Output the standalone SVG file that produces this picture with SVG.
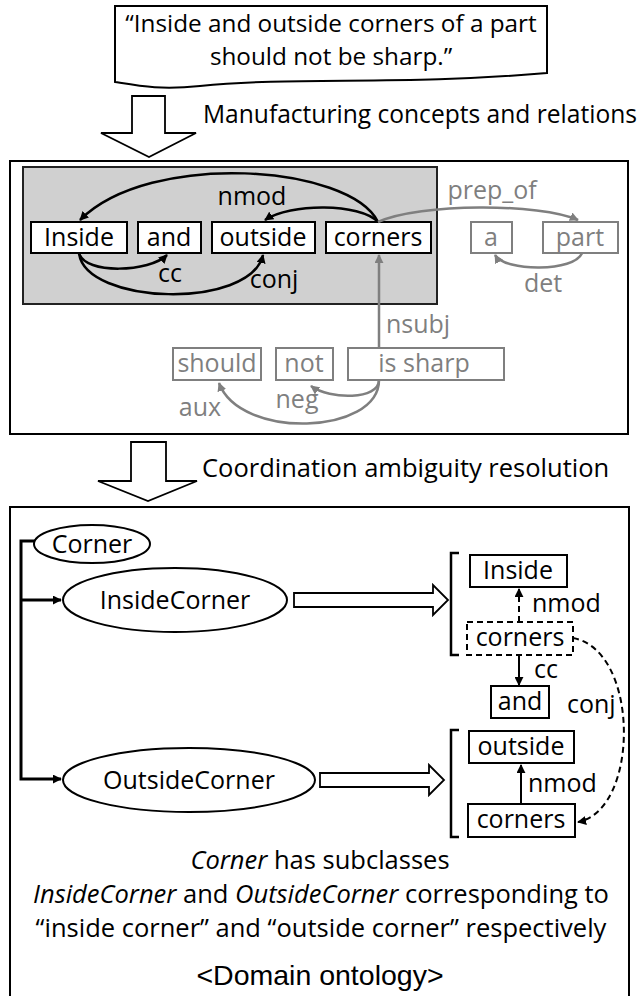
<svg xmlns="http://www.w3.org/2000/svg" width="643" height="996" viewBox="0 0 643 996">
<style>
text{font-family:"Open Sans","Noto Sans",sans-serif;font-size:25px;fill:#000}
.g{fill:#7f7f7f}
.c{text-anchor:middle}
.cap{font-size:25.5px}
.box{fill:#fff;stroke:#000;stroke-width:2}
.gbox{fill:#fff;stroke:#7f7f7f;stroke-width:2}
.arc{fill:none;stroke:#000;stroke-width:2.5}
.garc{fill:none;stroke:#7f7f7f;stroke-width:2.5}
.blk{fill:#fff;stroke:#000;stroke-width:1.8}
.ell{fill:#fff;stroke:#000;stroke-width:2}
.dash{stroke-dasharray:6,4}
</style>
<defs>
<marker id="ab" viewBox="0 0 10 10" refX="9" refY="5" markerWidth="9" markerHeight="9" markerUnits="userSpaceOnUse" orient="auto"><path d="M0,0 L10,5 L0,10 Z" fill="#000"/></marker>
<marker id="ag" viewBox="0 0 10 10" refX="9" refY="5" markerWidth="9" markerHeight="9" markerUnits="userSpaceOnUse" orient="auto"><path d="M0,0 L10,5 L0,10 Z" fill="#7f7f7f"/></marker>
</defs>

<g id="sentence">
<path d="M115,6 H547 V73 C 400,86 300,76 200,86 C 160,90 140,86 115,82 Z" fill="#fff" stroke="#000" stroke-width="2"/>
<text x="331" y="32" class="c" style="font-size:24.3px">“Inside and outside corners of a part</text>
<text x="331" y="65" class="c" style="font-size:24.3px">should not be sharp.”</text>
</g>

<g id="step1">
<path class="blk" d="M132,96 H165 V133 H196 L149,157 L101,133 H132 Z"/>
<text x="203" y="123" textLength="434" lengthAdjust="spacingAndGlyphs">Manufacturing concepts and relations</text>
</g>

<g id="parse-panel">
<rect x="10" y="161" width="618" height="273" fill="#fff" stroke="#000" stroke-width="2"/>
<rect x="23" y="167" width="414" height="137" fill="#d0d0d0" stroke="#222" stroke-width="2"/>
</g>

<g id="w-inside"><rect class="box" x="31" y="222" width="96" height="31"/><text x="79" y="246" class="c">Inside</text></g>
<g id="w-and"><rect class="box" x="138" y="222" width="63" height="31"/><text x="169" y="246" class="c">and</text></g>
<g id="w-outside"><rect class="box" x="212" y="222" width="103" height="31"/><text x="263" y="246" class="c">outside</text></g>
<g id="w-corners"><rect class="box" x="326" y="222" width="105" height="31"/><text x="378" y="246" class="c">corners</text></g>
<g id="w-a"><rect class="gbox" x="471" y="222" width="41" height="31"/><text x="491" y="246" class="c g">a</text></g>
<g id="w-part"><rect class="gbox" x="543" y="222" width="75" height="31"/><text x="580" y="246" class="c g">part</text></g>
<g id="w-should"><rect class="gbox" x="173" y="348" width="88" height="32"/><text x="217" y="372" class="c g">should</text></g>
<g id="w-not"><rect class="gbox" x="276" y="348" width="57" height="32"/><text x="304" y="372" class="c g">not</text></g>
<g id="w-issharp"><rect class="gbox" x="348" y="348" width="156" height="32"/><text x="424" y="372" class="c g">is sharp</text></g>

<g id="parse-connectors">
<path class="arc" d="M378,222 C 350,165 150,150 80,220" marker-end="url(#ab)"/>
<path class="arc" d="M378,222 C 360,203 290,203 265,220" marker-end="url(#ab)"/>
<path class="arc" d="M79,253 C 85,275 150,272 167,255" marker-end="url(#ab)"/>
<path class="arc" d="M79,253 C 85,305 250,310 263,255" marker-end="url(#ab)"/>
<path class="garc" d="M378,222 C 420,203 540,203 578,220" marker-end="url(#ag)"/>
<path class="garc" d="M582,253 C 575,272 505,272 495,255" marker-end="url(#ag)"/>
<path class="garc" d="M379,348 V255" marker-end="url(#ag)"/>
<path class="garc" d="M379,380 C 379,400 330,400 311,386" marker-end="url(#ag)"/>
<path class="garc" d="M379,380 C 379,435 240,440 219,383" marker-end="url(#ag)"/>
<text x="252" y="205" class="c">nmod</text>
<text x="170" y="282" class="c">cc</text>
<text x="274" y="288" class="c">conj</text>
<text x="492" y="199" class="c g">prep_of</text>
<text x="543" y="292" class="c g">det</text>
<text x="386" y="333" class="g">nsubj</text>
<text x="297" y="408" class="c g">neg</text>
<text x="200" y="416" class="c g">aux</text>
</g>

<g id="step2">
<path class="blk" d="M131,442 H166 V481 H197 L148,501 L98,481 H131 Z"/>
<text x="202" y="477" class="cap">Coordination ambiguity resolution</text>
</g>

<g id="ontology-panel">
<rect x="10" y="507" width="619" height="500" fill="#fff" stroke="#000" stroke-width="2"/>
</g>

<g id="n-corner"><ellipse class="ell" cx="92" cy="544" rx="58" ry="19"/><text x="92" y="553" class="c">Corner</text></g>
<g id="n-insidecorner"><ellipse class="ell" cx="175" cy="600" rx="112" ry="32"/><text x="175" y="609" class="c">InsideCorner</text></g>
<g id="n-outsidecorner"><ellipse class="ell" cx="189" cy="780" rx="126" ry="32"/><text x="189" y="789" class="c">OutsideCorner</text></g>

<g id="r-inside"><rect class="box" x="470" y="555" width="97" height="32"/><text x="518" y="579" class="c">Inside</text></g>
<g id="r-corners1"><rect class="box dash" x="467" y="622" width="106" height="33"/><text x="520" y="646" class="c">corners</text></g>
<g id="r-and"><rect class="box" x="491" y="686" width="58" height="32"/><text x="520" y="710" class="c">and</text></g>
<g id="r-outside"><rect class="box" x="469" y="731" width="105" height="32"/><text x="521" y="755" class="c">outside</text></g>
<g id="r-corners2"><rect class="box" x="468" y="804" width="107" height="33"/><text x="521" y="828" class="c">corners</text></g>

<g id="ontology-connectors">
<path d="M35,541 H21 V779 H61" fill="none" stroke="#000" stroke-width="3" marker-end="url(#ab)"/>
<path d="M21,600 H61" fill="none" stroke="#000" stroke-width="3" marker-end="url(#ab)"/>
<path class="blk" stroke-width="2" d="M294,593 H433 V585 L448,600 L433,615 V607 H294 Z"/>
<path class="blk" stroke-width="2" d="M320,773 H429 V765 L444,780 L429,795 V787 H320 Z"/>
<path d="M459,553 H451 V655 H459" fill="none" stroke="#000" stroke-width="2.5"/>
<path d="M459,730 H451 V837 H459" fill="none" stroke="#000" stroke-width="2.5"/>
<path d="M519,622 V589" fill="none" stroke="#000" stroke-width="2" class="dash" marker-end="url(#ab)"/>
<path d="M519,655 V685" fill="none" stroke="#000" stroke-width="2" marker-end="url(#ab)"/>
<path d="M521,804 V765" fill="none" stroke="#000" stroke-width="2" marker-end="url(#ab)"/>
<path d="M573,638 C 640,650 640,810 578,822" fill="none" stroke="#000" stroke-width="2" class="dash" marker-end="url(#ab)"/>
<text x="532" y="612">nmod</text>
<text x="534" y="678">cc</text>
<text x="567" y="713">conj</text>
<text x="528" y="792">nmod</text>
</g>

<g id="caption">
<text x="320" y="869" class="c cap"><tspan font-style="italic">Corner</tspan> has subclasses</text>
<text x="321" y="903" class="c cap"><tspan font-style="italic">InsideCorner</tspan> and <tspan font-style="italic">OutsideCorner</tspan> corresponding to</text>
<text x="321" y="937" class="c cap">“inside corner” and “outside corner” respectively</text>
<text x="320" y="985" class="c" style="font-family:'Liberation Sans',Arial,sans-serif;font-size:28.5px">&lt;Domain ontology&gt;</text>
</g>
</svg>
